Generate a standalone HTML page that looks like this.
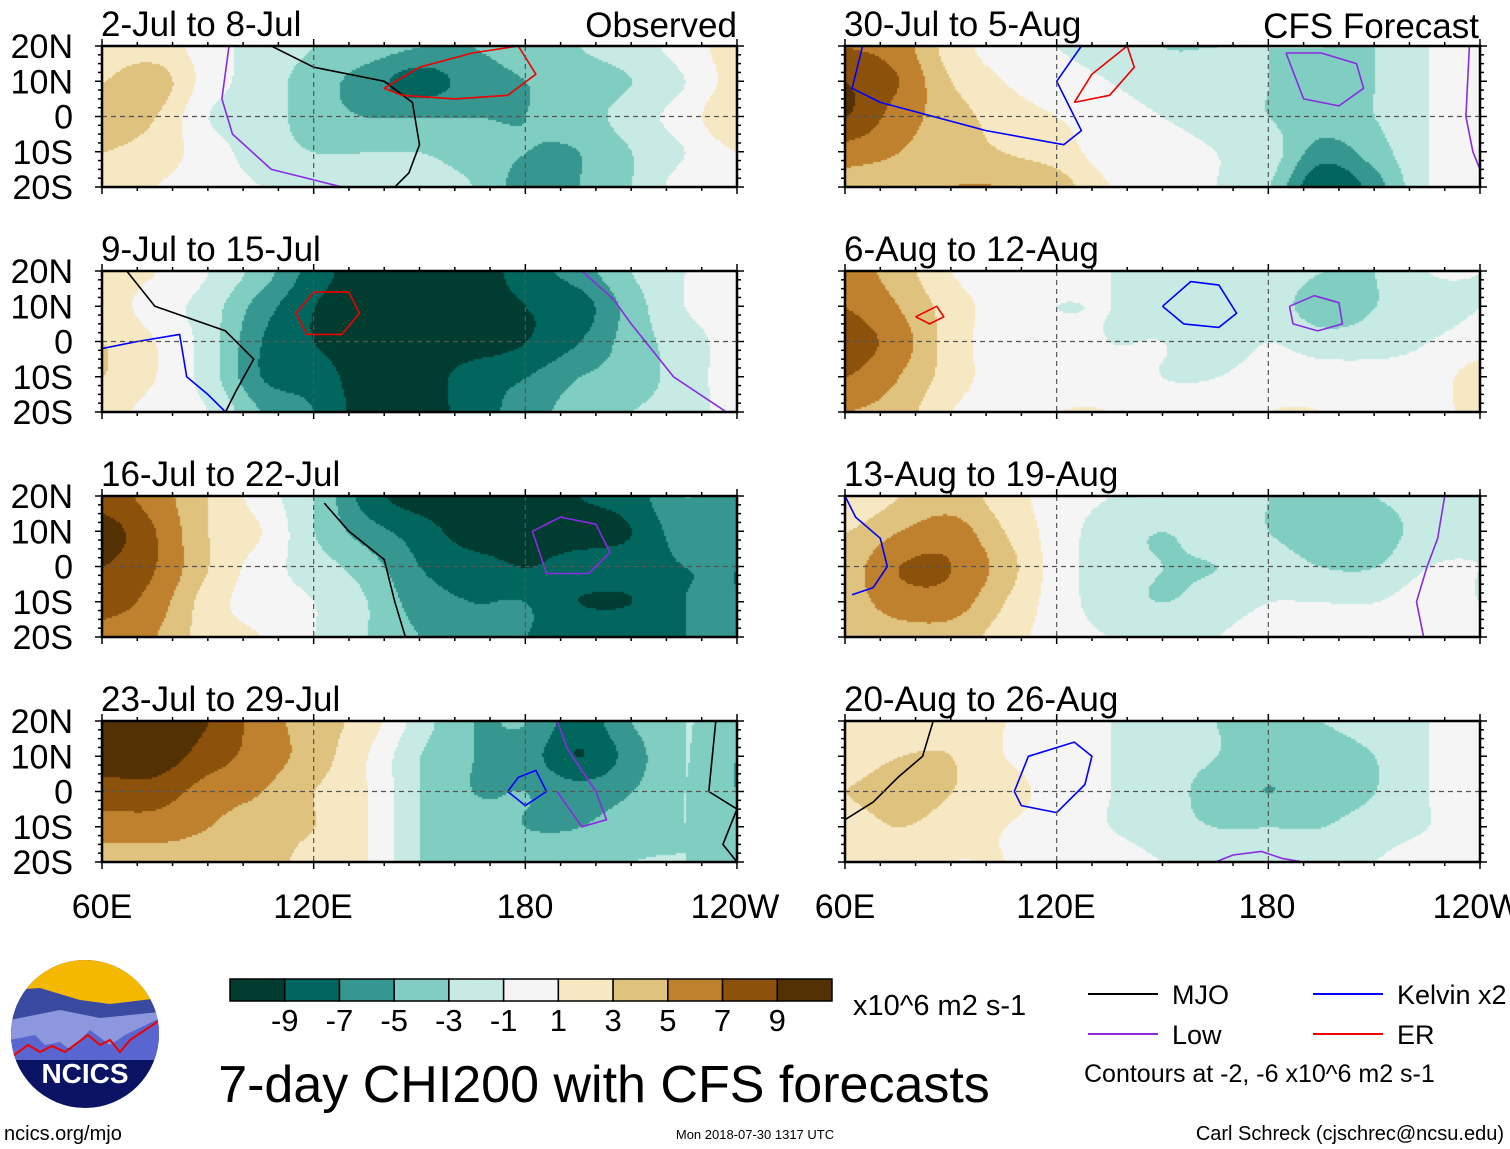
<!DOCTYPE html>
<html><head><meta charset="utf-8">
<style>
html,body{margin:0;padding:0;background:#fff;}
#wrap{position:relative;width:1510px;height:1149px;overflow:hidden;font-family:"Liberation Sans",Arial,sans-serif;}
canvas,svg{position:absolute;left:0;top:0;}
</style></head>
<body>
<div id="wrap">
<canvas id="cv" width="1510" height="1149"></canvas>
<svg id="sv" width="1510" height="1149" xmlns="http://www.w3.org/2000/svg"></svg>
</div>
<script>
// ---- data ----
const lons = [60,75,90,105,120,135,150,165,180,195,210,225,240];
const lats = [20,10,0,-10,-20];
const levels = [-9,-7,-5,-3,-1,1,3,5,7,9];
const levelColors = ["#003c30","#01665e","#35978f","#80cdc1","#c7eae5","#f5f5f5","#f6e8c3","#dfc27d","#bf812d","#8c510a","#543005"];
const panelTitles = ["2-Jul to 8-Jul","9-Jul to 15-Jul","16-Jul to 22-Jul","23-Jul to 29-Jul","30-Jul to 5-Aug","6-Aug to 12-Aug","13-Aug to 19-Aug","20-Aug to 26-Aug"];
const p1 = [[2,2,0,-2,-3,-4,-5,-5,-4,-3,-2,0,2],[3,4,0,-2,-4,-6,-8,-6,-5,-4,-3,-1,2],[4,3,-1,-2,-4,-5,-5,-5,-5,-4,-2,0,3],[3,2,0,-2,-3,-3,-3,-4,-5,-5,-3,-1,1],[2,1,0,-1,-2,-2,-2,-3,-6,-5,-3,0,0]];
const p2 = [[2,1,-1,-4,-8,-10,-10,-10,-8,-6,-3,-1,1],[2,0,-2,-6,-9,-10,-10,-10,-9,-8,-4,-1,0],[3,1,-2,-7,-9,-10,-10,-10,-9,-7,-4,-2,0],[3,1,-2,-7,-8,-10,-10,-8,-7,-5,-4,-2,0],[2,0,-1,-5,-7,-10,-10,-8,-6,-4,-3,-2,0]];
const p3 = [[8,6,3,0,-3,-8,-10,-10,-10,-9,-8,-5,-7],[10,7,3,1,-3,-6,-8,-10,-10,-10,-9,-6,-7],[9,7,3,0,-2,-4,-7,-8,-9,-8,-8,-7,-7],[8,6,2,0,-1,-3,-6,-7,-7,-9,-9,-7,-7],[6,5,2,1,-1,-3,-5,-6,-7,-7,-7,-7,-7]];
const p4 = [[10,10,9,6,4,2,-2,-5,-5,-8,-5,-3,-4],[10,10,8,6,4,1,-3,-5,-6,-9,-6,-3,-5],[8,8,6,5,3,1,-3,-5,-5,-6,-5,-3,-5],[6,6,5,4,3,1,-3,-4,-5,-5,-4,-3,-4],[4,4,4,4,2,1,-3,-4,-4,-4,-3,-3,-3]];
const p5 = [[7,6,2,0,-1,-2,-3,-3,-3,-3,-3,-1,0],[9,7,3,1,0,-1,-2,-2,-3,-4,-3,-1,0],[9,6,4,2,1,0,-1,-2,-3,-4,-3,-1,0],[6,5,4,3,2,0,0,-1,-2,-6,-4,-1,0],[4,4,5,5,4,1,0,-1,-3,-9,-6,-1,0]];
const p6 = [[6,4,1,0,0,-1,-2,-2,-2,-3,-3,-1,-1],[7,5,2,0,-1,-1,-2,-2,-2,-4,-3,-2,-1],[8,6,2,0,0,-1,-1,-2,-1,-2,-2,-1,0],[7,5,2,0,0,0,-1,-1,0,0,0,0,2],[5,4,1,0,1,1,0,0,1,1,0,0,2]];
const p7 = [[1,3,4,2,0,-1,-1,-2,-3,-3,-3,-2,-1],[3,5,6,3,0,-2,-3,-2,-3,-4,-4,-2,-1],[4,7,7,4,0,-2,-3,-3,-2,-3,-3,-1,-1],[4,6,6,3,0,-2,-3,-2,-1,-1,-1,0,-1],[3,4,4,2,0,-1,-1,-1,0,0,0,0,0]];
const p8 = [[2,2,2,1,0,-1,-2,-3,-3,-3,-2,-1,0],[2,3,3,1,0,-1,-2,-3,-4,-4,-3,-1,0],[3,4,3,2,0,-1,-2,-4,-5,-4,-3,-1,0],[2,3,2,1,0,-1,-2,-3,-3,-3,-2,-1,0],[2,2,1,1,0,0,-1,-1,-1,-2,-1,0,0]];
const grids = [p1,p2,p3,p4,p5,p6,p7,p8];
// contours: panel, colour, lon list, lat list
const contourPanel = [0,0,0,1,1,1,1,2,2,3,3,3,4,4,4,4,5,5,5,6,6,7,7,7];
const contourColor = ["#000","#8a2be2","#e00","#000","#8a2be2","#00f","#e00","#000","#8a2be2","#8a2be2","#00f","#000","#00f","#8a2be2","#8a2be2","#e00","#8a2be2","#00f","#e00","#8a2be2","#00f","#000","#8a2be2","#00f"];
const contourLon = [
 [108,120,140,148,150,147,143],[96,94,97,108,120,128],[140,150,165,178,183,175,160,145,140],
 [67,75,95,103,98,95],[196,205,210,214,222,237],[60,70,82,84,90,95,90],[115,120,130,133,128,118,115],
 [123,130,140,143,146],[182,190,200,204,198,186,182],
 [189,192,200,203,196,189],[175,178,183,186,180,175],[234,232,240,236,240],
 [65,62,70,100,122,127,124,120,127],[185,195,205,207,200,190,185],[237,236,238,240],[125,130,140,142,135,125,125],
 [186,193,200,201,194,187,186],[150,158,166,171,166,156,150],[80,86,88,84,80],
 [230,228,225,222,224],[60,63,70,72,68,62],
 [60,68,75,82,85],[165,170,178,184,190],[108,112,125,130,128,120,110,108]];
const contourLat = [
 [20,14,10,4,-8,-16,-20],[20,5,-5,-15,-18,-20],[8,14,18,20,12,6,5,6,8],
 [20,10,3,-5,-14,-20],[20,12,5,0,-10,-20],[-2,0,2,-10,-15,-20,-20],[8,14,14,8,2,2,8],
 [18,10,2,-10,-20],[10,14,12,4,-2,-2,10],
 [20,12,0,-8,-10,0],[0,4,6,0,-4,0],[20,0,-5,-15,-20],
 [20,8,4,-4,-8,-4,2,10,20],[18,18,15,8,3,5,18],[20,0,-10,-15],[4,12,20,14,6,4,4],
 [10,13,11,5,3,5,10],[10,17,16,8,4,5,10],[7,10,7,5,7],
 [20,8,0,-10,-20],[20,14,8,0,-6,-8],
 [-8,-3,4,10,20],[-20,-18,-17,-19,-20],[0,10,14,10,2,-6,-4,0]];

// ---- layout ----
const PX = [102,845], PY = [46,271,496,721], PW = 635, PH = 141;
function panelXY(i){return {x:PX[i<4?0:1], y:PY[i%4]};}
function xScale(i,lon){return panelXY(i).x + (lon-60)/180*PW;}
function yScale(i,lat){return panelXY(i).y + (20-lat)/40*PH;}
function colorFor(v){let k=0;while(k<levels.length && v>=levels[k])k++;return levelColors[k];}
function cr(p0,p1,p2,p3,t){return 0.5*((2*p1)+(-p0+p2)*t+(2*p0-5*p1+4*p2-p3)*t*t+(-p0+3*p1-3*p2+p3)*t*t*t);}
function sample(g,fr,fc){
  const R=g.length,C=g[0].length;
  const r1=Math.min(Math.floor(fr),R-2),c1=Math.min(Math.floor(fc),C-2),tr=fr-r1,tc=fc-c1;
  const row=r=>{r=Math.max(0,Math.min(R-1,r));const a=g[r];const q=c=>a[Math.max(0,Math.min(C-1,c))];
    return cr(q(c1-1),q(c1),q(c1+1),q(c1+2),tc);};
  return cr(row(r1-1),row(r1),row(r1+1),row(r1+2),tr);
}

// ---- fills ----
const ctx = document.getElementById('cv').getContext('2d');
grids.forEach((g,i)=>{
  const o=panelXY(i);
  for(let py=0;py<PH;py+=2){
    const fr=py/PH*(lats.length-1);
    for(let px=0;px<PW;px+=2){
      const fc=px/PW*(lons.length-1);
      ctx.fillStyle=colorFor(sample(g,fr,fc));
      ctx.fillRect(o.x+px,o.y+py,2,2);
    }
  }
});

// ---- svg overlay ----
const NS="http://www.w3.org/2000/svg", sv=document.getElementById('sv');
function mk(tag,attrs,parent){const e=document.createElementNS(NS,tag);for(const k in attrs)e.setAttribute(k,attrs[k]);(parent||sv).appendChild(e);return e;}
function txt(s,x,y,size,anchor,parent){const t=mk('text',{x:x,y:y,'font-size':size,'text-anchor':anchor||'start','font-family':'Liberation Sans, Arial, sans-serif',fill:'#000'},parent);t.textContent=s;return t;}

const defs=mk('defs',{});
for(let i=0;i<8;i++){const o=panelXY(i);const c=mk('clipPath',{id:'pc'+i},defs);mk('rect',{x:o.x,y:o.y,width:PW,height:PH},c);}

contourPanel.forEach((p,j)=>{
  const pts=contourLon[j].map((lo,k)=>xScale(p,lo).toFixed(1)+','+yScale(p,contourLat[j][k]).toFixed(1)).join(' ');
  const c=mk('polyline',{points:pts,fill:'none',stroke:contourColor[j],'stroke-width':1.6,'stroke-linejoin':'round','clip-path':'url(#pc'+p+')'});
  
  
});

for(let i=0;i<8;i++){
  const o=panelXY(i);
  const g=mk('g',{});
  
  
  mk('line',{x1:o.x,x2:o.x+PW,y1:yScale(i,0),y2:yScale(i,0),stroke:'#555','stroke-width':1.2,'stroke-dasharray':'5,4'},g);
  [120,180].forEach(lo=>mk('line',{x1:xScale(i,lo),x2:xScale(i,lo),y1:o.y,y2:o.y+PH,stroke:'#555','stroke-width':1.2,'stroke-dasharray':'5,4'},g));
  mk('rect',{x:o.x,y:o.y,width:PW,height:PH,fill:'none',stroke:'#000','stroke-width':2.5},g);
  for(let lo=60;lo<=240;lo+=10){const x=xScale(i,lo),big=(lo%60==0);
    mk('line',{x1:x,x2:x,y1:o.y+PH,y2:o.y+PH+(big?7:4),stroke:'#000','stroke-width':1.5},g);
    mk('line',{x1:x,x2:x,y1:o.y,y2:o.y-(big?7:4),stroke:'#000','stroke-width':1.5},g);}
  for(let la=-20;la<=20;la+=2.5){const y=yScale(i,la),big=(la%10==0);
    mk('line',{x1:o.x,x2:o.x-(big?7:4),y1:y,y2:y,stroke:'#000','stroke-width':1.5},g);
    mk('line',{x1:o.x+PW,x2:o.x+PW+(big?7:4),y1:y,y2:y,stroke:'#000','stroke-width':1.5},g);}
  const t=txt(panelTitles[i],o.x-1,o.y-10,35,'start',g);
  
  
  if(i<4){
    ['20N','10N','0','10S','20S'].forEach((s,k)=>{const l=txt(s,73,o.y+k*PH/4+12,34,'end',g);
      
      });
  }
}
const obs=txt('Observed',737,37,35,'end');
const cfs=txt('CFS Forecast',1479,38,35,'end');
[[102,'60E'],[313,'120E'],[525,'180'],[735,'120W'],[845,'60E'],[1056,'120E'],[1267,'180'],[1477,'120W']].forEach(a=>{
  const l=txt(a[1],a[0],918,34,'middle');
  
  });

// colorbar
const cb=mk('g',{});
const cbw=602/11;
levelColors.forEach((c,k)=>mk('rect',{x:230+k*cbw,y:979,width:cbw,height:22,fill:c,stroke:'#000','stroke-width':1.5},cb));
levels.forEach((v,k)=>txt(String(v),230+(k+1)*cbw,1031,31,'middle',cb));
txt('x10^6 m2 s-1',853,1015,29,'start',cb);
const ttl=txt('7-day CHI200 with CFS forecasts',604,1102,52,'middle');

// legend
const lg=mk('g',{});
[[1088,994,'#000','MJO'],[1088,1034,'#8a2be2','Low'],[1313,994,'#00f','Kelvin x2'],[1313,1034,'#e00','ER']].forEach(a=>{
  mk('line',{x1:a[0],x2:a[0]+70,y1:a[1],y2:a[1],stroke:a[2],'stroke-width':2},lg);
  txt(a[3],a[0]+84,a[1]+10,27,'start',lg);});
txt('Contours at -2, -6 x10^6 m2 s-1',1084,1082,25,'start',lg);
const crd=txt('Carl Schreck (cjschrec@ncsu.edu)',1504,1140,20,'end');
const dt=txt('Mon 2018-07-30 1317 UTC',755,1139,13,'middle');
const url=txt('ncics.org/mjo',4,1140,20,'start');

// logo
const lo=mk('g',{});
const lcp=mk('clipPath',{id:'lc'},defs);mk('circle',{cx:85,cy:1034,r:74},lcp);
const lg2=mk('g',{'clip-path':'url(#lc)'},lo);
mk('rect',{x:10,y:958,width:150,height:160,fill:'#0b1464'},lg2);
mk('rect',{x:10,y:958,width:150,height:50,fill:'#f5b800'},lg2);
mk('polygon',{points:'10,990 40,988 80,1000 110,1004 160,998 160,1040 10,1045',fill:'#3a4aa0'},lg2);
mk('polygon',{points:'10,1020 60,1010 100,1018 160,1012 160,1045 10,1050',fill:'#8d97dd'},lg2);
mk('polygon',{points:'10,1040 35,1035 45,1045 60,1042 70,1050 90,1030 110,1045 125,1035 160,1018 160,1060 10,1060',fill:'#5a66cf'},lg2);
mk('polyline',{points:'10,1058 28,1045 40,1052 52,1046 65,1052 88,1035 100,1045 110,1040 120,1052 130,1040 160,1020',fill:'none',stroke:'#e00','stroke-width':2},lg2);
const nt=txt('NCICS',85,1083,28,'middle',lo);nt.setAttribute('fill','#fff');nt.setAttribute('font-weight','bold');
</script>
</body></html>
